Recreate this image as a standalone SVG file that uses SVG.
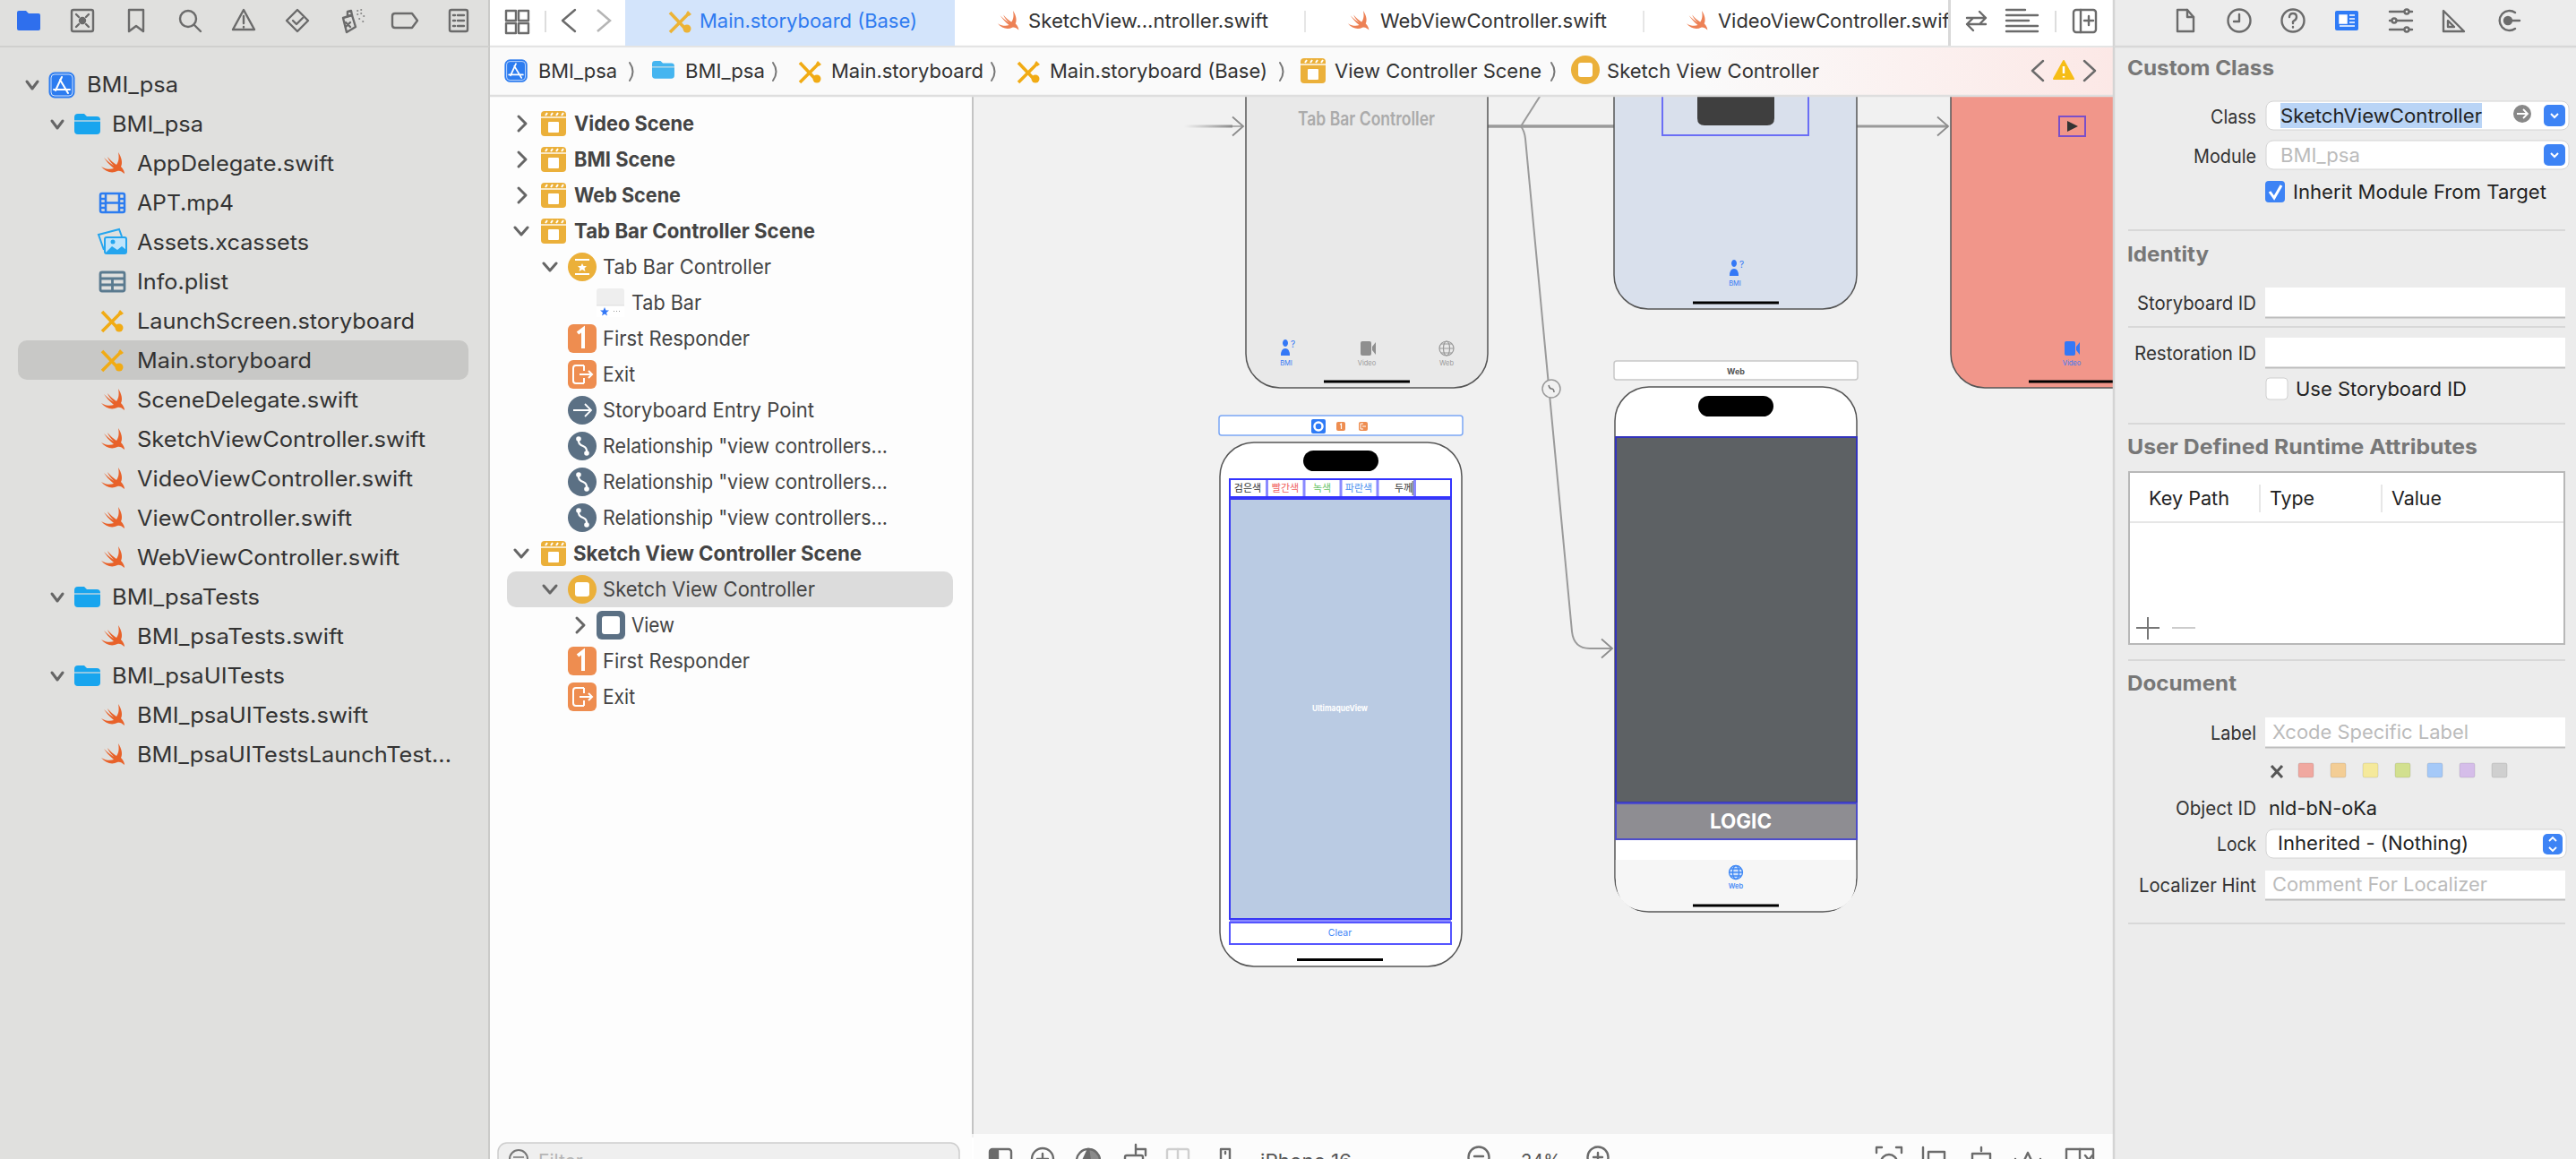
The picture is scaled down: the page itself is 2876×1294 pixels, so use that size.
<svg xmlns="http://www.w3.org/2000/svg" width="2876" height="1294" viewBox="0 0 2876 1294">
<style>
text{font-family:"Inter","Noto Sans","Liberation Sans",sans-serif}
.side{font-size:24px;fill:#333}
.nav{font-size:22.5px;fill:#444}
.navb{font-size:22.5px;font-weight:700;fill:#444}
.tab{font-size:22px;fill:#333}
.crumb{font-size:22px;fill:#333}
.lbl{font-size:21px;fill:#333;text-anchor:end}
.val{font-size:21px;fill:#222}
.ph{font-size:21px;fill:#bbb}
.h{font-size:23px;font-weight:700;fill:#777}
.ik{fill:none;stroke:#6b6b6b;stroke-width:2.4;stroke-linecap:round;stroke-linejoin:round}
.ch{fill:none;stroke:#666;stroke-width:3;stroke-linecap:round;stroke-linejoin:round}
.cr{fill:none;stroke:#777;stroke-width:2;stroke-linecap:round;stroke-linejoin:round}
.phone{stroke:#555;stroke-width:1.5}
.home{fill:#000}
.tl{font-size:7.5px;text-anchor:middle}
.seg{stroke:#8a8aff;stroke-width:3}
.kr{font-family:"Noto Sans CJK KR","Noto Sans",sans-serif;font-size:11px;text-anchor:middle}
.fb{stroke:#bdbdbd;stroke-width:2}
.sep{stroke:#d8d8d8;stroke-width:2}
.conn{fill:none;stroke:#9a9a9a}
</style>
<defs>
<path id="i-swift" fill="#e8622a" d="M20 1C24 7 25 13 23 17C26 20 27 23 27 25C24 22 21 21 19 22C13 25 6 23 1 17C6 20 11 20.5 15 19C10 15 6 10 4 7C8 11 12 14 15 16C12 13 9 9 8 6C11 10 15 13 18 15C21 11 21 6 20 1Z"/>
<g id="i-sb"><path d="M2 2L21 22" stroke="#f1ab14" stroke-width="3.6" fill="none"/><path d="M2 24L23 3" stroke="#f1ab14" stroke-width="3.6" fill="none"/><circle cx="21" cy="20" r="4.5" fill="#f1ab14"/><path d="M22 0L26 4L23 6L20 3Z" fill="#f1ab14"/></g>
<g id="i-folder"><path d="M0 4Q0 0 4 0H11L14 3H25Q29 3 29 7V19Q29 23 25 23H4Q0 23 0 19Z" fill="#18a5ee"/><path d="M0 8H29" stroke="#e0e0de" stroke-width="1.2"/></g>
<g id="i-app"><rect x="1" y="1" width="28" height="28" rx="6" fill="#2c7cf0" stroke="#2c7cf0"/><rect x="3" y="3" width="24" height="24" rx="4" fill="none" stroke="#cfe0fb" stroke-width="1"/><path d="M15 6L8 21M13 9L22 24M6 20H24" stroke="#fff" stroke-width="2" fill="none" stroke-linecap="round"/></g>
<g id="i-scene"><rect width="28" height="28" rx="4" fill="#ebb03a"/><path d="M0 7H28" stroke="#fff" stroke-width="1.4"/><path d="M5 5L7 2M11 5L13 2M17 5L19 2M23 5L25 2" stroke="#fff" stroke-width="2"/><rect x="8" y="12" width="12" height="12" rx="1" fill="#fff"/></g>
<g id="i-fr"><rect width="32" height="32" rx="6" fill="#ee8d50"/><path d="M11 10L17 5.500V27" fill="none" stroke="#fff" stroke-width="4"/></g>
<g id="i-exit"><rect width="32" height="32" rx="6" fill="#ee8d50"/><path d="M18 6H9Q6 6 6 9V23Q6 26 9 26H18M18 26V20M18 6V12M13 16H27M23 12L27 16L23 20" fill="none" stroke="#fff" stroke-width="2"/></g>
<g id="i-rel"><circle r="16" fill="#5b7084"/><path d="M-4 -8Q-5 -2 1 0Q6 2 5 8" fill="none" stroke="#fff" stroke-width="2.200"/><circle cx="-4" cy="-8" r="2.800" fill="#fff"/><circle cx="5" cy="8" r="2.800" fill="#fff"/></g>
<g id="i-cam"><rect x="-8" y="-8" width="12" height="16" rx="2"/><path d="M5 -2L9 -7V7L5 2Z"/></g>
<path id="i-pers" d="M-2 -11a3 4 0 1 0 .01 0ZM-7 7Q-7 -1 -2 -1Q3 -1 3 7Z"/>
<linearGradient id="fade" gradientUnits="userSpaceOnUse" x1="1322" y1="0" x2="1375" y2="0"><stop offset="0" stop-color="#9a9a9a" stop-opacity="0"/><stop offset="1" stop-color="#8c8c8c"/></linearGradient>
<linearGradient id="pink" gradientUnits="userSpaceOnUse" x1="1900" y1="0" x2="2359" y2="0"><stop offset="0" stop-color="#fafafa"/><stop offset="1" stop-color="#fce8e6"/></linearGradient>
<marker id="chev" viewBox="-14 -12 16 24" refX="0" refY="0" markerWidth="16" markerHeight="24" orient="auto" markerUnits="userSpaceOnUse"><path d="M-12 -10.500L0 0L-12 10.500" fill="none" stroke="#8c8c8c" stroke-width="1.800"/></marker>
</defs>

<rect id="canvas" x="1085" y="100" width="1280" height="1170" fill="#f1f1f1"/>

<g id="connectors">
<path class="conn" style="stroke:url(#fade)" stroke-width="3" d="M1322 141H1376"/>
<path class="conn" stroke-width="1.500" d="M1376 141H1388" marker-end="url(#chev)"/>
<path class="conn" stroke-width="3.500" d="M1661 141H1802"/>
<path class="conn" stroke-width="3" d="M2073 141H2175" marker-end="url(#chev)"/>
<path class="conn" stroke-width="2" d="M1698 141L1724 100"/>
<path class="conn" stroke-width="2" d="M1698 141Q1702 146 1703 155L1755 705Q1757 724 1775 724H1800" marker-end="url(#chev)"/>
<g id="segue-badge"><circle cx="1732" cy="434" r="10" fill="#f1f1f1" stroke="#9a9a9a" stroke-width="1.500"/><path d="M1729 430Q1730 434 1732 434Q1735 434 1735 438" fill="none" stroke="#777" stroke-width="1.500"/></g>
</g>

<g id="node-tabbar">
<rect class="phone" x="1391" y="40" width="270" height="393" rx="38" fill="#e9e9e9"/>
<text x="1449" y="140" font-size="21" font-weight="600" fill="#ababab" textLength="153" lengthAdjust="spacingAndGlyphs">Tab Bar Controller</text>
<use href="#i-pers" x="1437" y="390" fill="#3478f6"/>
<text x="1441" y="388" font-size="10" fill="#3478f6">?</text>
<text class="tl" x="1436" y="408" fill="#3478f6">BMI</text>
<use href="#i-cam" x="1527" y="389" fill="#8f8f8f"/>
<text class="tl" x="1526" y="408" fill="#999">Video</text>
<g fill="none" stroke="#999" stroke-width="1.200"><circle cx="1615" cy="389" r="8"/><ellipse cx="1615" cy="389" rx="3.500" ry="8"/><path d="M1607 389H1623M1609 384H1621M1609 394H1621"/></g>
<text class="tl" x="1615" y="408" fill="#999">Web</text>
<rect class="home" x="1478" y="424.500" width="96" height="3"/>
</g>

<g id="node-bmi">
<rect class="phone" x="1802" y="40" width="271" height="305" rx="38" fill="#d9e0ec"/>
<rect x="1856" y="60" width="163" height="91" fill="none" stroke="#6a6ef5" stroke-width="2"/>
<path d="M1895 60H1981V132Q1981 140 1973 140H1903Q1895 140 1895 132Z" fill="#3f3f3f"/>
<use href="#i-pers" x="1938" y="301" fill="#3478f6"/>
<text x="1942" y="299" font-size="10" fill="#3478f6">?</text>
<text class="tl" x="1937" y="319" fill="#3478f6">BMI</text>
<rect class="home" x="1890" y="336.500" width="96" height="3"/>
</g>

<g id="node-video">
<rect class="phone" x="2178" y="40" width="270" height="393" rx="38" fill="#f1968a"/>
<rect x="2299" y="130" width="29" height="22" fill="none" stroke="#7a4fc9" stroke-width="2"/>
<path d="M2308 135L2320 141L2308 147Z" fill="#333"/>
<use href="#i-cam" x="2313" y="389" fill="#3478f6"/>
<text class="tl" x="2313" y="408" fill="#3478f6">Video</text>
<rect class="home" x="2265" y="424.500" width="96" height="3"/>
</g>

<g id="node-sketch">
<rect x="1361" y="464" width="272" height="22" rx="3" fill="#fff" stroke="#7ba7f5" stroke-width="1.500"/>
<rect x="1464" y="468" width="16" height="16" rx="2" fill="#2f7bf6"/><circle cx="1472" cy="476" r="4.500" fill="none" stroke="#fff" stroke-width="2.500"/>
<rect x="1492" y="471" width="10" height="10" rx="2" fill="#ee8d50"/><path d="M1496 474L1497.500 473V479" fill="none" stroke="#fff" stroke-width="1.200"/>
<rect x="1517" y="471" width="10" height="10" rx="2" fill="#ee8d50"/><path d="M1522 473H1519V479H1522M1521 476H1525" fill="none" stroke="#fff"/>
<rect class="phone" x="1362" y="494" width="270" height="585" rx="38" fill="#fff"/>
<rect x="1455" y="503" width="84" height="23" rx="11.500" fill="#000"/>
<rect x="1373" y="535" width="247" height="20" fill="#fff" stroke="#3333ff" stroke-width="2"/>
<path class="seg" d="M1414.500 536V554M1456 536V554M1497 536V554M1538 536V554"/>
<rect x="1578" y="536" width="3" height="18" fill="#8a8aff"/><rect x="1576.500" y="537" width="1.500" height="16" fill="#888"/>
<text class="kr" x="1393" y="549" fill="#333">검은색</text>
<text class="kr" x="1435" y="549" fill="#f06060">빨간색</text>
<text class="kr" x="1476" y="549" fill="#68c468">녹색</text>
<text class="kr" x="1517" y="549" fill="#4a90f0">파란색</text>
<text class="kr" x="1567" y="549" fill="#333">두께</text>
<rect x="1373" y="557" width="247" height="469" fill="#bacbe3" stroke="#3838f5" stroke-width="2"/>
<text x="1465" y="794" font-size="9.500" font-weight="700" fill="#fff" textLength="62" lengthAdjust="spacingAndGlyphs">UltimaqueView</text>
<rect x="1373" y="1030" width="247" height="24" fill="#fff" stroke="#5555ff" stroke-width="2"/>
<path d="M1373 1028H1620" stroke="#8a8aff" stroke-width="2"/>
<text x="1496" y="1045" font-size="10.500" fill="#3f86f7" text-anchor="middle">Clear</text>
<rect class="home" x="1448" y="1070" width="96" height="3"/>
</g>

<g id="node-web">
<rect x="1802" y="403" width="272" height="21" rx="3" fill="#fff" stroke="#c8c8c8" stroke-width="1.500"/>
<text x="1938" y="417.500" font-size="9" font-weight="700" fill="#555" text-anchor="middle">Web</text>
<rect class="phone" x="1803" y="432" width="270" height="586" rx="38" fill="#fff"/>
<path d="M1803.800 960H2072.200V980Q2072.200 1017 2035 1017H1841Q1803.800 1017 1803.800 980Z" fill="#f6f6f6"/>
<rect x="1896" y="442" width="84" height="23" rx="11.500" fill="#000"/>
<rect x="1804" y="488" width="269" height="408" fill="#5d6164" stroke="#3333bb" stroke-width="2"/>
<rect x="1804" y="897" width="269" height="40" fill="#8e8d92" stroke="#4d4dc8" stroke-width="2"/>
<text x="1909" y="924.500" font-size="23" font-weight="700" fill="#fff" textLength="69" lengthAdjust="spacingAndGlyphs">LOGIC</text>
<g fill="none" stroke="#3f88f5" stroke-width="1.300"><circle cx="1938" cy="974" r="7.500" fill="#cfe1fb"/><ellipse cx="1938" cy="974" rx="3.500" ry="7.500"/><path d="M1930.500 974H1945.500M1932 970H1944M1932 978H1944"/></g>
<text class="tl" x="1938" y="992" fill="#4a8cf7" font-weight="600">Web</text>
<rect class="home" x="1890" y="1009.500" width="96" height="3"/>
</g>

<g id="project-navigator">
<rect x="0" y="0" width="546" height="1294" fill="#e0e0de"/>
<path d="M546 0V1294" stroke="#cbcbc9" stroke-width="2"/>
<path d="M0 52H546" stroke="#d0d0ce" stroke-width="2"/>
<path d="M19 14Q19 12 21 12H29L32 15H43Q45 15 45 17V32Q45 34 43 34H21Q19 34 19 32Z" fill="#2f6fed"/>
<g class="ik">
<rect x="80" y="11" width="24" height="24" rx="2"/><circle cx="92" cy="23" r="3" fill="#6b6b6b"/><path d="M85 16L88 19M99 16L96 19M85 30L88 27M99 30L96 27"/>
<path d="M144 11H160V35L152 29L144 35Z"/>
<circle cx="210" cy="21" r="9"/><path d="M217 28L224 35"/>
<path d="M272 11L284 33H260Z"/><path d="M272 18V26M272 30V30.500"/>
<path d="M332 11L344 23L332 35L320 23Z"/><path d="M327 23L331 27L338 20"/>
<path d="M383 20L393 17L397 30L387 36Z"/><path d="M388 13L392 12L393 17L388 18ZM386 25L391 30M391 25L386 30"/><path d="M399 12h.5M403 11h.5M399 16h.5M403 15h.5M406 18h.5M401 21h.5M405 24h.5" stroke-width="1.600"/>
<path d="M441 15H460L466 23L460 31H441Q438 31 438 28V18Q438 15 441 15Z"/>
<rect x="502" y="11" width="20" height="24" rx="2"/><path d="M506 17H508M511 17H518M506 23H508M511 23H518M506 29H508M511 29H518"/>
</g>
<rect x="20" y="380" width="503" height="44" rx="10" fill="#c8c8c6"/>
<path class="ch" d="M30 91L36 99L42 91"/>
<path class="ch" d="M58 135L64 143L70 135"/>
<path class="ch" d="M58 663L64 671L70 663"/>
<path class="ch" d="M58 751L64 759L70 751"/>
<use href="#i-app" x="54" y="80"/>
<text class="side" x="97" y="103" textLength="102" lengthAdjust="spacingAndGlyphs">BMI_psa</text>
<use href="#i-folder" x="83" y="127"/>
<text class="side" x="125" y="147" textLength="102" lengthAdjust="spacingAndGlyphs">BMI_psa</text>
<use href="#i-swift" x="112" y="169"/>
<text class="side" x="153" y="191" textLength="220" lengthAdjust="spacingAndGlyphs">AppDelegate.swift</text>
<g fill="none" stroke="#2c7cf0" stroke-width="2.500"><rect x="112" y="216" width="27" height="21" rx="2"/><path d="M118 216V237M133 216V237M118 226.500H133M112 222H118M112 227H118M112 232H118M133 222H139M133 227H139M133 232H139"/></g>
<text class="side" x="153" y="235" textLength="108" lengthAdjust="spacingAndGlyphs">APT.mp4</text>
<g stroke="#25a5ee" stroke-width="2" fill="none"><path d="M116 279L110 262L133 256L136 264"/><rect x="117" y="265" width="24" height="18" rx="2" fill="#bfe4fb"/></g><circle cx="126" cy="270" r="2.500" fill="#25a5ee"/><path d="M118 282L125 275L131 279L136 275L141 279V283H118Z" fill="#25a5ee"/>
<text class="side" x="153" y="279" textLength="192" lengthAdjust="spacingAndGlyphs">Assets.xcassets</text>
<g fill="none" stroke="#5a7a8f" stroke-width="2.800"><rect x="112" y="304" width="27" height="21" rx="2"/><path d="M112 311H139M112 318H139M125.500 311V325"/></g>
<text class="side" x="153" y="323" textLength="102" lengthAdjust="spacingAndGlyphs">Info.plist</text>
<use href="#i-sb" x="112" y="346"/>
<text class="side" x="153" y="367" textLength="310" lengthAdjust="spacingAndGlyphs">LaunchScreen.storyboard</text>
<use href="#i-sb" x="112" y="390"/>
<text class="side" x="153" y="411" textLength="195" lengthAdjust="spacingAndGlyphs">Main.storyboard</text>
<use href="#i-swift" x="112" y="433"/>
<text class="side" x="153" y="455" textLength="247" lengthAdjust="spacingAndGlyphs">SceneDelegate.swift</text>
<use href="#i-swift" x="112" y="477"/>
<text class="side" x="153" y="499" textLength="322" lengthAdjust="spacingAndGlyphs">SketchViewController.swift</text>
<use href="#i-swift" x="112" y="521"/>
<text class="side" x="153" y="543" textLength="308" lengthAdjust="spacingAndGlyphs">VideoViewController.swift</text>
<use href="#i-swift" x="112" y="565"/>
<text class="side" x="153" y="587" textLength="240" lengthAdjust="spacingAndGlyphs">ViewController.swift</text>
<use href="#i-swift" x="112" y="609"/>
<text class="side" x="153" y="631" textLength="293" lengthAdjust="spacingAndGlyphs">WebViewController.swift</text>
<use href="#i-folder" x="83" y="655"/>
<text class="side" x="125" y="675" textLength="165" lengthAdjust="spacingAndGlyphs">BMI_psaTests</text>
<use href="#i-swift" x="112" y="697"/>
<text class="side" x="153" y="719" textLength="231" lengthAdjust="spacingAndGlyphs">BMI_psaTests.swift</text>
<use href="#i-folder" x="83" y="743"/>
<text class="side" x="125" y="763" textLength="193" lengthAdjust="spacingAndGlyphs">BMI_psaUITests</text>
<use href="#i-swift" x="112" y="785"/>
<text class="side" x="153" y="807" textLength="258" lengthAdjust="spacingAndGlyphs">BMI_psaUITests.swift</text>
<use href="#i-swift" x="112" y="829"/>
<text class="side" x="153" y="851" textLength="351" lengthAdjust="spacingAndGlyphs">BMI_psaUITestsLaunchTest...</text>
</g>

<g id="document-outline">
<rect x="547" y="108" width="538" height="1186" fill="#fdfdfd"/>
<path d="M1086 108V1266" stroke="#c4c4c4" stroke-width="2"/>
<path class="ch" d="M579 130L587 138L579 146M579 170L587 178L579 186M579 210L587 218L579 226"/>
<path class="ch" d="M575 254L582 262L589 254M607 294L614 302L621 294M575 614L582 622L589 614"/>
<use href="#i-scene" x="604" y="124"/>
<text class="navb" x="641" y="146" textLength="134" lengthAdjust="spacingAndGlyphs">Video Scene</text>
<use href="#i-scene" x="604" y="164"/>
<text class="navb" x="641" y="186" textLength="113" lengthAdjust="spacingAndGlyphs">BMI Scene</text>
<use href="#i-scene" x="604" y="204"/>
<text class="navb" x="641" y="226" textLength="119" lengthAdjust="spacingAndGlyphs">Web Scene</text>
<use href="#i-scene" x="604" y="244"/>
<text class="navb" x="641" y="266" textLength="269" lengthAdjust="spacingAndGlyphs">Tab Bar Controller Scene</text>
<circle cx="650" cy="298" r="16" fill="#ebb03a"/><path d="M642 290H658M642 306H658" stroke="#fff" stroke-width="2"/><path d="M650 294L651.500 297H655L652.500 299.500L653.500 303L650 301L646.500 303L647.500 299.500L645 297H648.500Z" fill="#fff"/>
<text class="nav" x="673" y="306" textLength="188" lengthAdjust="spacingAndGlyphs">Tab Bar Controller</text>
<rect x="666" y="322" width="31" height="32" rx="3" fill="#eeeeee"/><rect x="666" y="341" width="31" height="13" fill="#fff"/><path d="M666 341H697" stroke="#ddd"/><path d="M675 343L676.500 346.500H680L677 349L678 352.500L675 350.500L672 352.500L673 349L670 346.500H673.500Z" fill="#3478f6"/><path d="M685 347.500h1M688 347.500h1M691 347.500h1" stroke="#999"/>
<text class="nav" x="705" y="346" textLength="78" lengthAdjust="spacingAndGlyphs">Tab Bar</text>
<use href="#i-fr" x="634" y="362"/>
<text class="nav" x="673" y="386" textLength="164" lengthAdjust="spacingAndGlyphs">First Responder</text>
<use href="#i-exit" x="634" y="402"/>
<text class="nav" x="673" y="426" textLength="36" lengthAdjust="spacingAndGlyphs">Exit</text>
<circle cx="650" cy="458" r="16" fill="#5b7084"/><path d="M640 458H659M653 451L660 458L653 465" fill="none" stroke="#fff" stroke-width="1.800"/>
<text class="nav" x="673" y="466" textLength="236" lengthAdjust="spacingAndGlyphs">Storyboard Entry Point</text>
<use href="#i-rel" x="650" y="498"/>
<text class="nav" x="673" y="506" textLength="318" lengthAdjust="spacingAndGlyphs">Relationship "view controllers...</text>
<use href="#i-rel" x="650" y="538"/>
<text class="nav" x="673" y="546" textLength="318" lengthAdjust="spacingAndGlyphs">Relationship "view controllers...</text>
<use href="#i-rel" x="650" y="578"/>
<text class="nav" x="673" y="586" textLength="318" lengthAdjust="spacingAndGlyphs">Relationship "view controllers...</text>
<use href="#i-scene" x="604" y="604"/>
<text class="navb" x="640" y="626" textLength="322" lengthAdjust="spacingAndGlyphs">Sketch View Controller Scene</text>
<rect x="566" y="638" width="498" height="40" rx="10" fill="#dcdcdc"/>
<path class="ch" d="M607 654L614 662L621 654"/>
<circle cx="650" cy="658" r="16" fill="#ebb03a"/><rect x="642" y="650" width="16" height="16" rx="3" fill="#fff"/>
<text class="nav" x="673" y="666" textLength="237" lengthAdjust="spacingAndGlyphs">Sketch View Controller</text>
<path class="ch" d="M644 690L652 698L644 706"/>
<rect x="666" y="682" width="32" height="32" rx="6" fill="#5b7084"/><rect x="672" y="688" width="20" height="20" rx="3" fill="#fff"/>
<text class="nav" x="705" y="706" textLength="48" lengthAdjust="spacingAndGlyphs">View</text>
<use href="#i-fr" x="634" y="722"/>
<text class="nav" x="673" y="746" textLength="164" lengthAdjust="spacingAndGlyphs">First Responder</text>
<use href="#i-exit" x="634" y="762"/>
<text class="nav" x="673" y="786" textLength="36" lengthAdjust="spacingAndGlyphs">Exit</text>
<rect x="556" y="1276" width="515" height="40" rx="10" fill="#efefef" stroke="#cdcdcd" stroke-width="1.500"/>
<circle cx="579" cy="1294" r="10" fill="none" stroke="#777" stroke-width="2"/><path d="M573 1292H585M575 1296H583" stroke="#777" stroke-width="1.500"/>
<text x="601" y="1304" font-size="21" fill="#b5b5b5">Filter</text>
</g>

<g id="tab-bar">
<rect x="547" y="0" width="1812" height="52" fill="#fff"/>
<path d="M547 52H2359" stroke="#e4e4e4" stroke-width="2.500"/>
<rect x="698" y="0" width="368" height="51" fill="#d3e4fb"/>
<g class="ik"><rect x="565" y="12" width="11" height="11"/><rect x="565" y="26" width="11" height="11"/><rect x="579" y="12" width="11" height="11"/><rect x="579" y="26" width="11" height="11"/></g>
<path d="M609 12V36" stroke="#ddd" stroke-width="2"/>
<path class="ik" d="M642 11L628 23L642 35"/>
<path d="M667 11L681 23L667 35" fill="none" stroke="#b5b5b5" stroke-width="2.500"/>
<use href="#i-sb" x="746" y="12" opacity=".85"/>
<text x="781" y="31" font-size="22" fill="#2f7bf0" textLength="243" lengthAdjust="spacingAndGlyphs">Main.storyboard (Base)</text>
<use href="#i-swift" transform="translate(1113 11) scale(.9)" opacity=".8"/>
<text class="tab" x="1148" y="31" textLength="268" lengthAdjust="spacingAndGlyphs">SketchView...ntroller.swift</text>
<path d="M1457 12V36" stroke="#e6e6e6" stroke-width="2"/>
<use href="#i-swift" transform="translate(1504 11) scale(.9)" opacity=".8"/>
<text class="tab" x="1541" y="31" textLength="253" lengthAdjust="spacingAndGlyphs">WebViewController.swift</text>
<path d="M1835 12V36" stroke="#e6e6e6" stroke-width="2"/>
<use href="#i-swift" transform="translate(1882 11) scale(.9)" opacity=".8"/>
<text class="tab" x="1918" y="31" textLength="265" lengthAdjust="spacingAndGlyphs">VideoViewController.swift</text>
<rect x="2176" y="0" width="183" height="51" fill="#fff"/>
<rect x="2175" y="0" width="3" height="51" fill="#d8d8d8"/>
<g class="ik"><path d="M2196 20H2217M2210 13L2217 20L2210 27M2217 27H2196M2203 20L2196 27L2203 34"/><path d="M2240 11H2261M2240 17H2275M2240 23H2265M2240 29H2275M2240 35H2275"/><rect x="2315" y="11" width="25" height="25" rx="3"/><path d="M2323 11V36M2332 18V28M2327 23H2337"/></g>
<path d="M2295 12V36" stroke="#ddd" stroke-width="2"/>
</g>

<g id="breadcrumb">
<rect x="547" y="53" width="1812" height="54" fill="url(#pink)"/>
<path d="M547 107H2359" stroke="#dedede" stroke-width="2.500"/>
<use href="#i-app" transform="translate(563 66) scale(.87)"/>
<text class="crumb" x="601" y="87" textLength="88" lengthAdjust="spacingAndGlyphs">BMI_psa</text>
<path class="cr" d="M703 70Q710 80 703 90M863 70Q870 80 863 90M1107 70Q1114 80 1107 90M1429 70Q1436 80 1429 90M1732 70Q1739 80 1732 90"/>
<use href="#i-folder" transform="translate(728 68) scale(.86)" opacity=".8"/>
<text class="crumb" x="765" y="87" textLength="89" lengthAdjust="spacingAndGlyphs">BMI_psa</text>
<use href="#i-sb" x="891" y="68"/>
<text class="crumb" x="928" y="87" textLength="170" lengthAdjust="spacingAndGlyphs">Main.storyboard</text>
<use href="#i-sb" x="1135" y="68"/>
<text class="crumb" x="1172" y="87" textLength="243" lengthAdjust="spacingAndGlyphs">Main.storyboard (Base)</text>
<use href="#i-scene" x="1452" y="65"/>
<text class="crumb" x="1490" y="87" textLength="231" lengthAdjust="spacingAndGlyphs">View Controller Scene</text>
<circle cx="1770" cy="78" r="16" fill="#ebb03a"/><rect x="1762" y="70" width="16" height="16" rx="3" fill="#fff"/>
<text class="crumb" x="1794" y="87" textLength="237" lengthAdjust="spacingAndGlyphs">Sketch View Controller</text>
<path class="ik" d="M2281 68L2269 79L2281 90M2327 68L2339 79L2327 90"/>
<path d="M2304 68L2315 88H2293Z" fill="#f6bd16" stroke="#f6bd16" stroke-width="2" stroke-linejoin="round"/><path d="M2304 74V82M2304 85V86.500" stroke="#fff" stroke-width="2.500"/>
</g>

<g id="bottom-bar">
<rect x="1087" y="1266" width="1272" height="28" fill="#fcfcfc"/>
<g class="ik">
<rect x="1105" y="1283" width="24" height="24" rx="3"/><rect x="1107" y="1285" width="7" height="20" fill="#6b6b6b"/>
<circle cx="1164" cy="1294" r="12"/><path d="M1164 1288V1300M1158 1294H1170"/>
<circle cx="1215" cy="1296" r="13"/><path d="M1215 1283L1221 1296H1209Z" fill="#6b6b6b"/><path d="M1215 1283A13 13 0 0 1 1228 1296H1217Z" fill="#8a8a8a"/>
<rect x="1256" y="1290" width="20" height="16" rx="2"/><path d="M1268 1283L1279 1283V1290M1268 1278V1288"/>
<path d="M1363 1283H1373V1306H1363ZM1368 1286V1288"/>
<circle cx="1651" cy="1292" r="11.500"/><path d="M1646 1291H1656"/>
<circle cx="1784" cy="1292" r="11.500"/><path d="M1779 1292H1789M1784 1287V1297"/>
</g>
<g class="ik" style="stroke:#cfcfcf"><rect x="1303" y="1283" width="24" height="24" rx="2"/><path d="M1315 1283V1307"/></g>
<text x="1407" y="1304" font-size="21" fill="#555" textLength="102" lengthAdjust="spacingAndGlyphs">iPhone 16</text>
<text x="1698" y="1304" font-size="21" fill="#555" textLength="45" lengthAdjust="spacingAndGlyphs">34%</text>
<g class="ik">
<path d="M2095 1287V1281H2101M2117 1281H2123V1287"/><circle cx="2109" cy="1298" r="9"/>
<path d="M2147 1281V1306M2153 1286H2171V1300H2153Z"/>
<path d="M2212 1281V1285M2202 1288H2222V1302H2202ZM2194 1296H2202M2222 1296H2230"/>
<path d="M2264 1287L2256 1304M2264 1287L2272 1304M2250 1294V1304M2278 1294V1304"/>
<rect x="2307" y="1283" width="30" height="24"/><path d="M2322 1283V1307M2328 1290L2332 1295L2336 1290"/>
</g>
</g>

<g id="inspector">
<rect x="2359" y="0" width="517" height="1294" fill="#ececec"/>
<path d="M2360 0V1294" stroke="#d4d4d4" stroke-width="2.500"/>
<path d="M2360 52H2876" stroke="#d8d8d8" stroke-width="2.500"/>
<g class="ik"><path d="M2431 11H2442L2449 19V35H2431Z"/><path d="M2442 11V19H2449"/><circle cx="2500" cy="23" r="12.500"/><path d="M2500 16V24H2494"/><circle cx="2560" cy="23" r="12.500"/><path d="M2556 19Q2556 15 2560 15Q2564 15 2564 19Q2564 22 2560 24V26M2560 30V30.500"/><path d="M2668 13H2693M2668 23H2693M2668 33H2693"/><circle cx="2687" cy="13" r="2.500" fill="#ececec"/><circle cx="2673" cy="23" r="2.500" fill="#ececec"/><circle cx="2687" cy="33" r="2.500" fill="#ececec"/><path d="M2728 12V35H2751ZM2733 23V30H2740Z"/><path d="M2808 14A11 11 0 1 0 2808 32M2799 23H2813"/><circle cx="2800" cy="23" r="4" fill="#6b6b6b"/></g>
<rect x="2607" y="12" width="26" height="22" rx="2" fill="#2f7bf6"/><path d="M2612 17H2620V26H2612ZM2623 17H2629M2623 21H2629M2623 25H2629M2612 29H2629" fill="#fff" stroke="#fff" stroke-width="1.500"/>

<text class="h" x="2375" y="84" textLength="164" lengthAdjust="spacingAndGlyphs">Custom Class</text>
<text class="lbl" x="2519" y="138" textLength="51" lengthAdjust="spacingAndGlyphs">Class</text>
<rect x="2530" y="113" width="338" height="32" rx="8" fill="#fff" stroke="#d4d4d4"/>
<rect x="2546" y="115" width="225" height="28" fill="#b9d4f6"/>
<text class="val" x="2546" y="137" textLength="225" lengthAdjust="spacingAndGlyphs">SketchViewController</text>
<circle cx="2816" cy="127" r="10" fill="#888"/><path d="M2810 127H2821M2817 122L2822 127L2817 132" fill="none" stroke="#fff" stroke-width="1.800"/>
<rect x="2840" y="117" width="24" height="24" rx="5" fill="#3d83f5"/><path d="M2848 127L2852 131L2856 127" fill="none" stroke="#fff" stroke-width="2"/>
<text class="lbl" x="2519" y="182" textLength="70" lengthAdjust="spacingAndGlyphs">Module</text>
<rect x="2530" y="157" width="338" height="32" rx="8" fill="#fff" stroke="#d4d4d4"/>
<text class="ph" x="2546" y="181" textLength="89" lengthAdjust="spacingAndGlyphs">BMI_psa</text>
<rect x="2840" y="161" width="24" height="24" rx="5" fill="#3d83f5"/><path d="M2848 171L2852 175L2856 171" fill="none" stroke="#fff" stroke-width="2"/>
<rect x="2529" y="202" width="22" height="24" rx="4" fill="#3d83f5"/><path d="M2534 214L2539 221L2547 207" fill="none" stroke="#fff" stroke-width="3"/>
<text class="val" x="2560" y="222" textLength="283" lengthAdjust="spacingAndGlyphs">Inherit Module From Target</text>
<path class="sep" d="M2376 257H2864"/>

<text class="h" x="2375" y="292" textLength="91" lengthAdjust="spacingAndGlyphs">Identity</text>
<text class="lbl" x="2519" y="346" textLength="133" lengthAdjust="spacingAndGlyphs">Storyboard ID</text>
<rect x="2529" y="321" width="335" height="33" fill="#fff"/><path class="fb" d="M2529 354.500H2864"/>
<path class="sep" d="M2376 365H2864"/>
<text class="lbl" x="2519" y="402" textLength="136" lengthAdjust="spacingAndGlyphs">Restoration ID</text>
<rect x="2529" y="377" width="335" height="33" fill="#fff"/><path class="fb" d="M2529 410.500H2864"/>
<rect x="2530" y="422" width="24" height="24" rx="4" fill="#fff" stroke="#d0d0d0"/>
<text class="val" x="2563" y="442" textLength="191" lengthAdjust="spacingAndGlyphs">Use Storyboard ID</text>
<path class="sep" d="M2376 473H2864"/>

<text class="h" x="2375" y="507" textLength="391" lengthAdjust="spacingAndGlyphs">User Defined Runtime Attributes</text>
<rect x="2377" y="527" width="486" height="192" fill="#fff" stroke="#b8b8b8" stroke-width="2"/>
<path d="M2378 583H2862" stroke="#e6e6e6" stroke-width="2"/>
<path d="M2523 541V572M2659 541V572" stroke="#e0e0e0" stroke-width="1.500"/>
<text class="val" x="2399" y="564" textLength="90" lengthAdjust="spacingAndGlyphs">Key Path</text>
<text class="val" x="2534" y="564" textLength="50" lengthAdjust="spacingAndGlyphs">Type</text>
<text class="val" x="2670" y="564" textLength="56" lengthAdjust="spacingAndGlyphs">Value</text>
<path d="M2385 701H2411M2398 689V714" stroke="#777" stroke-width="2"/>
<path d="M2425 701H2451" stroke="#ccc" stroke-width="2"/>
<path class="sep" d="M2376 737H2864"/>

<text class="h" x="2375" y="771" textLength="122" lengthAdjust="spacingAndGlyphs">Document</text>
<text class="lbl" x="2519" y="826" textLength="51" lengthAdjust="spacingAndGlyphs">Label</text>
<rect x="2529" y="801" width="335" height="33" fill="#fff"/><path class="fb" d="M2529 834.500H2864"/>
<text class="ph" x="2537" y="825" textLength="219" lengthAdjust="spacingAndGlyphs">Xcode Specific Label</text>
<path d="M2536 855L2548 868M2548 855L2536 868" stroke="#555" stroke-width="3"/>
<g id="swatches" stroke="#00000018">
<rect x="2566" y="852" width="17" height="16" rx="2" fill="#f0a8a0"/>
<rect x="2602" y="852" width="17" height="16" rx="2" fill="#f3cd95"/>
<rect x="2638" y="852" width="17" height="16" rx="2" fill="#f5e99b"/>
<rect x="2674" y="852" width="17" height="16" rx="2" fill="#d2e08f"/>
<rect x="2710" y="852" width="17" height="16" rx="2" fill="#a5c9f8"/>
<rect x="2746" y="852" width="17" height="16" rx="2" fill="#d5bde9"/>
<rect x="2782" y="852" width="17" height="16" rx="2" fill="#cfcfcf"/>
</g>
<text class="lbl" x="2519" y="910" textLength="90" lengthAdjust="spacingAndGlyphs">Object ID</text>
<text class="val" x="2533" y="910" textLength="121" lengthAdjust="spacingAndGlyphs">nld-bN-oKa</text>
<text class="lbl" x="2519" y="950" textLength="44" lengthAdjust="spacingAndGlyphs">Lock</text>
<rect x="2530" y="926" width="335" height="32" rx="8" fill="#fff" stroke="#d4d4d4"/>
<text class="val" x="2543" y="949" textLength="213" lengthAdjust="spacingAndGlyphs">Inherited - (Nothing)</text>
<rect x="2839" y="931" width="22" height="23" rx="5" fill="#3d83f5"/><path d="M2846 939L2850 935L2854 939M2846 946L2850 950L2854 946" fill="none" stroke="#fff" stroke-width="1.800"/>
<text class="lbl" x="2519" y="996" textLength="131" lengthAdjust="spacingAndGlyphs">Localizer Hint</text>
<rect x="2529" y="972" width="335" height="32" fill="#fff"/><path class="fb" d="M2529 1004.500H2864"/>
<text class="ph" x="2537" y="995" textLength="240" lengthAdjust="spacingAndGlyphs">Comment For Localizer</text>
<path class="sep" d="M2376 1031H2864"/>
</g>
</svg>
